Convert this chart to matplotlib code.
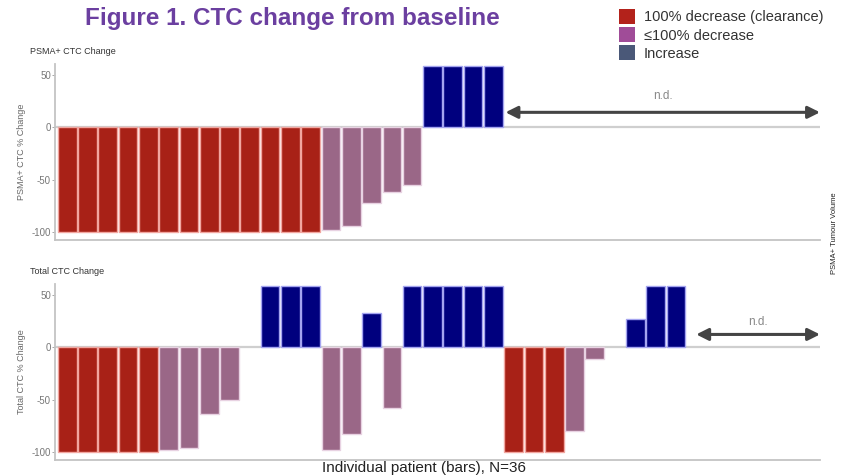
# CTC change from baseline: waterfall-style bars in two panels
import matplotlib.pyplot as plt
import numpy as np
from matplotlib.patches import Patch

plt.rcParams['font.family'] = ['Liberation Sans', 'DejaVu Sans']
plt.rcParams['axes.unicode_minus'] = False

# data (% change from baseline); 0 = no bar
psma_change = [-100] * 13 + [-98, -94, -72, -62, -55] + [58, 58, 58, 58]
total_change = ([-100] * 5 + [-98, -96, -64, -50] + [0] + [58, 58, 58]
                + [-98, -83] + [32] + [-58] + [58] * 5 + [-100] * 3
                + [-80, -11] + [0] + [27, 58, 58])
n_slots = 37

legend_labels = ['100% decrease (clearance)', '≤100% decrease', 'Increase']
legend_colors = ['#B3221B', '#A04C98', '#4A5878']

bar_colors = {'clear': '#A82117', 'part': '#9A6787', 'inc': '#00007E'}
edge_colors = {'clear': '#F2A6A0', 'part': '#E8D2E2', 'inc': '#A4A4F0'}


def category(v):
    if v <= -100:
        return 'clear'
    if v < 0:
        return 'part'
    return 'inc'


fig = plt.figure(figsize=(8.42, 4.76), dpi=100)
ax1 = fig.add_axes([55 / 842, 1 - 240 / 476, 765 / 842, 176 / 476])
ax2 = fig.add_axes([55 / 842, 1 - 460 / 476, 765 / 842, 176 / 476])

x_lo, x_hi = -0.6, n_slots + 0.1


def draw_panel(ax, values, title, ylabel, nd_from, nd_y, nd_text_y):
    x = np.arange(len(values))
    v = np.array(values, dtype=float)
    keep = v != 0
    cats = [category(a) for a in v[keep]]
    ax.axhline(0, color='#cfcfcf', lw=1.6, zorder=1)
    ax.bar(x[keep], v[keep], width=0.92,
           color=[bar_colors[c] for c in cats],
           edgecolor=[edge_colors[c] for c in cats], linewidth=1.0, zorder=2)
    ax.set_xlim(x_lo, x_hi)
    ax.set_ylim(-107.5, 60)
    ax.set_yticks([-100, -50, 0, 50])
    ax.set_xticks([])
    ax.tick_params(axis='y', labelsize=7, colors='#999999', length=2,
                   width=0.6, pad=1)
    for t in ax.get_yticklabels():
        t.set_color('#777777')
    for s in ['top', 'right']:
        ax.spines[s].set_visible(False)
    for s in ['left', 'bottom']:
        ax.spines[s].set_color('#c4c4c4')
        ax.spines[s].set_linewidth(1.3)
    ax.set_ylabel(ylabel, fontsize=6.5, color='#666666', labelpad=4)
    ax.set_title(title, fontsize=6.5, color='#333333', loc='left',
                 x=-0.033, pad=7)
    # not determined range
    ax.annotate('', xy=(x_hi, nd_y), xytext=(nd_from, nd_y),
                arrowprops=dict(arrowstyle='<|-|>', color='#444444', lw=2.2,
                                mutation_scale=18, shrinkA=0, shrinkB=0),
                annotation_clip=False)
    ax.text((nd_from + x_hi) / 2, nd_text_y, 'n.d.', fontsize=8.5,
            color='#888888', ha='center', va='center')


draw_panel(ax1, psma_change, 'PSMA+ CTC Change', 'PSMA+ CTC % Change',
           21.6, 14, 30)
draw_panel(ax2, total_change, 'Total CTC Change', 'Total CTC % Change',
           31.0, 12, 24)

fig.text(292 / 842, 1 - 19 / 476, 'Figure 1. CTC change from baseline',
         fontsize=17.5, fontweight='bold', color='#6B3FA0',
         ha='center', va='center')

handles = [Patch(facecolor=c, edgecolor='none') for c in legend_colors]
fig.legend(handles, legend_labels, loc='upper left',
           bbox_to_anchor=(613 / 842, 1 - 3 / 476), frameon=False,
           fontsize=10.5, handlelength=1.1, handleheight=1.2,
           handletextpad=0.6, labelspacing=0.2, borderaxespad=0,
           labelcolor='#333333')

fig.text(424 / 842, 1 / 476, 'Individual patient (bars), N=36',
         fontsize=11, color='#222222', ha='center', va='bottom')
fig.text(835 / 842, 1 - 233 / 476, 'PSMA+ Tumour Volume', fontsize=5.5,
         rotation=90, color='#222222', ha='center', va='center')

fig.savefig('out.png', dpi=100)
